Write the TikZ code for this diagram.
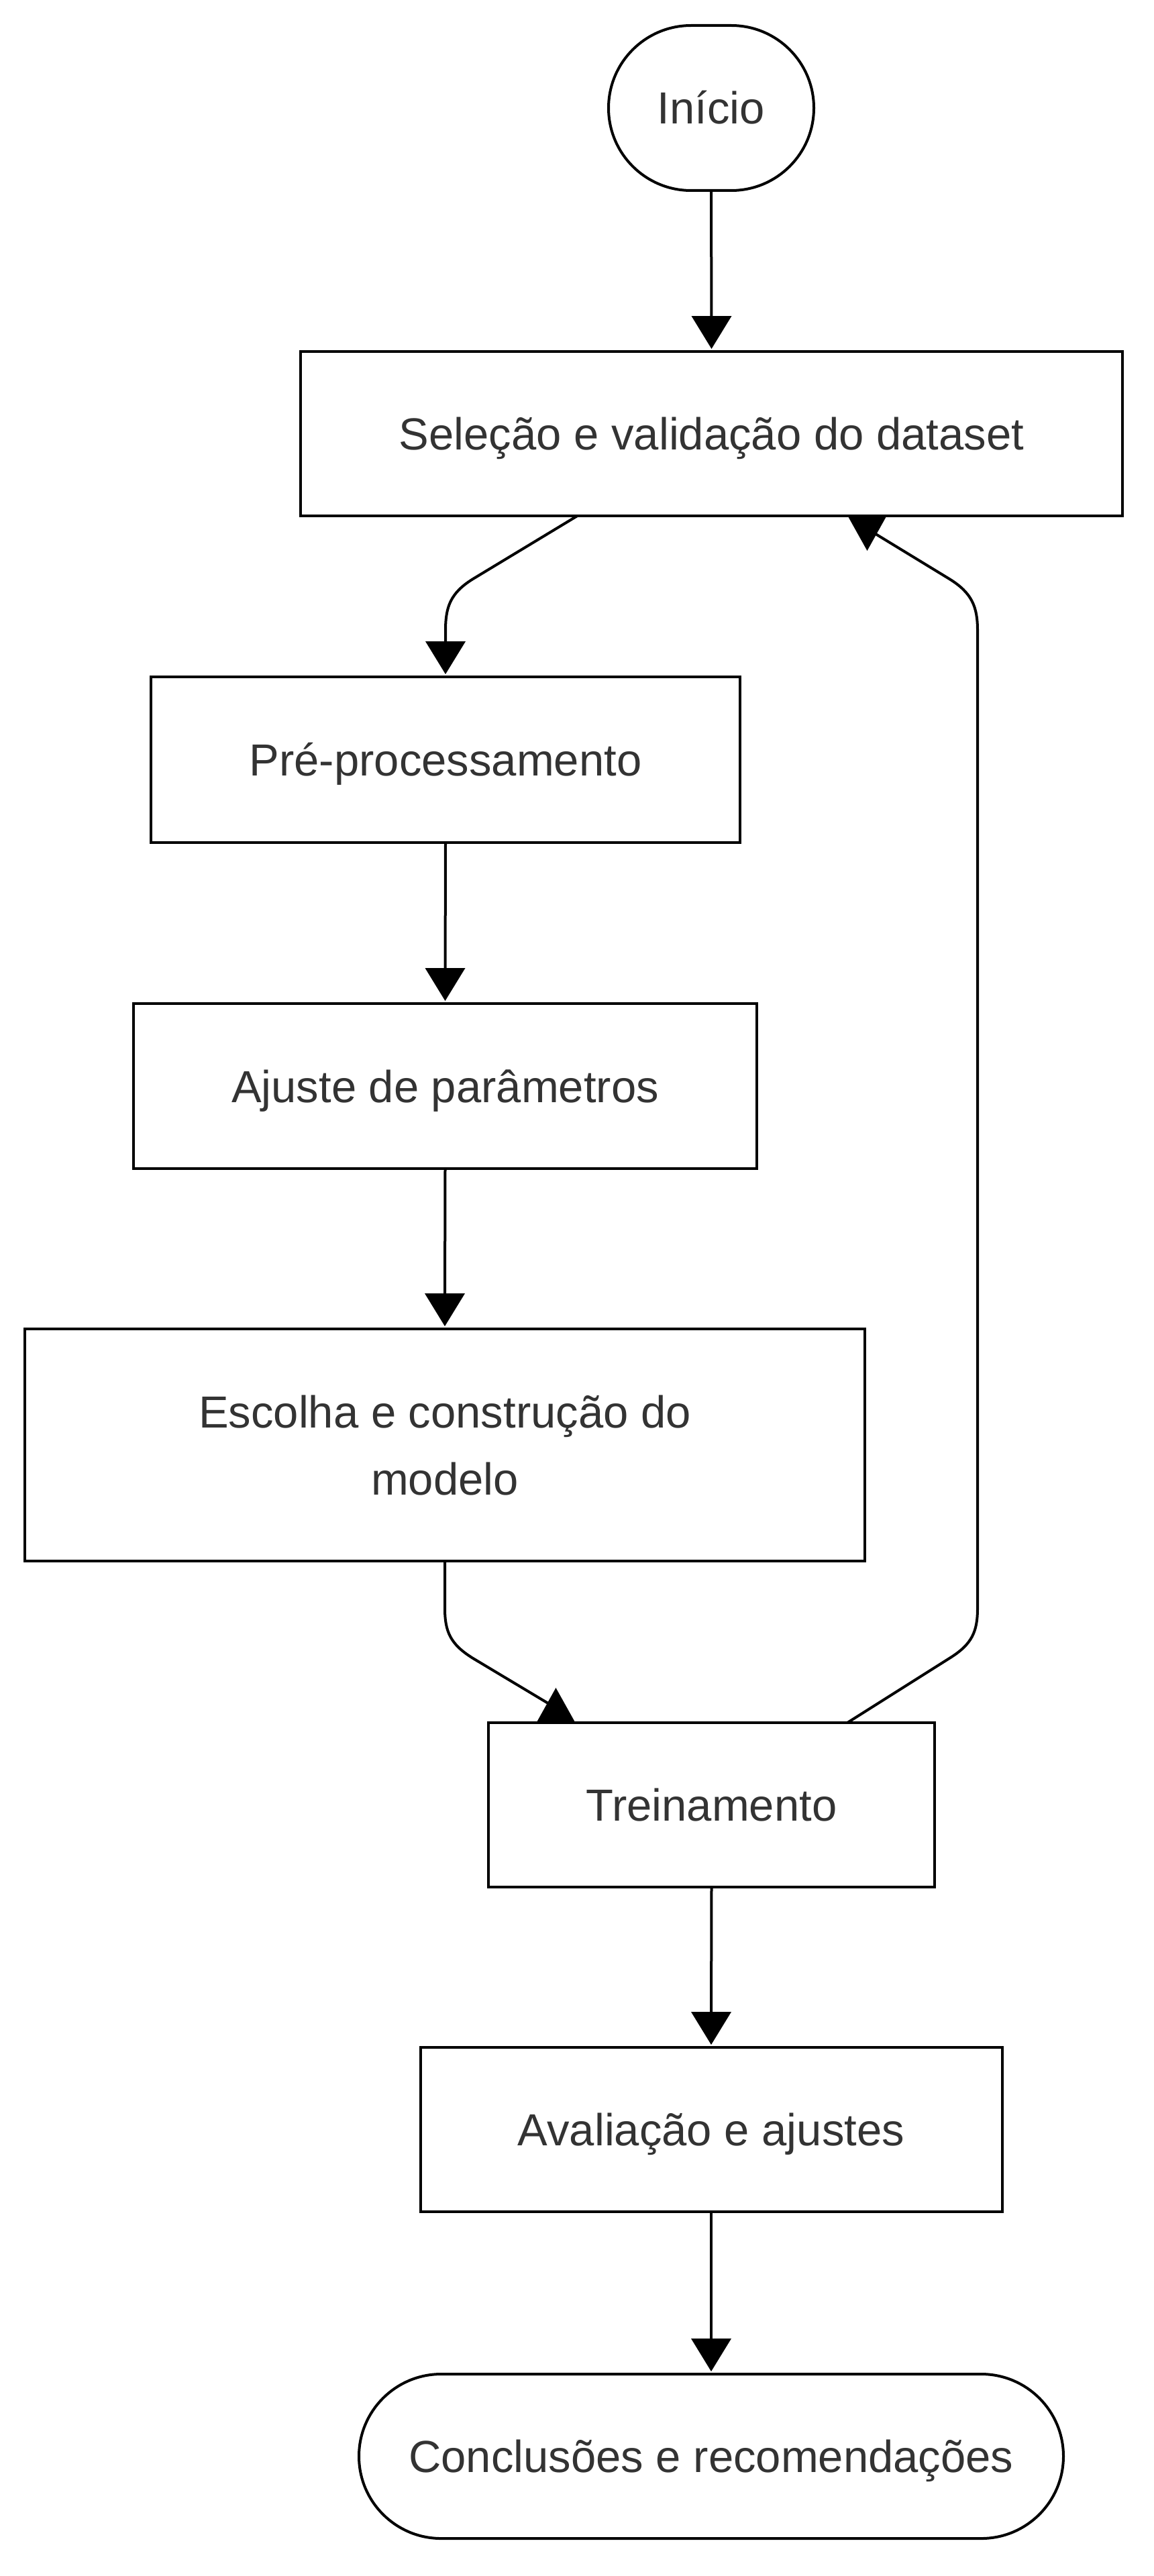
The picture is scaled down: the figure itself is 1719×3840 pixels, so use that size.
\documentclass[tikz,border=0pt]{standalone}
\usepackage{fontspec}
\setmainfont{Liberation Sans}
\usetikzlibrary{calc,shapes.misc}
\definecolor{txt}{HTML}{333333}
\tikzset{
  stepbox/.style={draw=black, line width=4pt, fill=white, rectangle, inner sep=0pt, outer sep=0pt, text=txt, font=\fontsize{67}{100}\selectfont},
  oneline/.style={text height=48pt, text depth=0pt},
  termbox/.style={stepbox, oneline, rounded rectangle},
  conn/.style={draw=black, line width=4pt},
  tipfill/.style={fill=black},
}
\newcommand\mytipdown[1]{\fill[tipfill] ($(#1)+(0,4)$) -- ++(-30,49) -- ++(60,0) -- cycle;}
\begin{document}
\begin{tikzpicture}[x=1pt,y=1pt]
\useasboundingbox (0,0) rectangle (1719,-3840);
\fill[white] (0,0) rectangle (1719,-3840);

\node[termbox, minimum width=306pt, minimum height=246pt] (n0) at (1060,-161) {Início};
\node[stepbox, oneline, minimum width=1225pt, minimum height=245pt] (n1) at (1060.5,-646.5) {Seleção e validação do dataset};
\node[stepbox, oneline, minimum width=878pt, minimum height=247pt] (n2) at (664,-1132.5) {Pré-processamento};
\node[stepbox, oneline, minimum width=929pt, minimum height=246pt] (n3) at (663.5,-1619) {Ajuste de parâmetros};
\node[stepbox, minimum width=1252pt, minimum height=346pt] (n4) at (663,-2154) {\parbox[c][148pt][t]{1240pt}{\centering\rule{0pt}{48pt}Escolha e construção do\\modelo}};
\node[stepbox, oneline, minimum width=665pt, minimum height=245pt] (n5) at (1060.5,-2690.5) {Treinamento};
\node[stepbox, oneline, minimum width=867pt, minimum height=245pt] (n6) at (1060,-3174.5) {Avaliação e ajustes};
\node[termbox, minimum width=1050pt, minimum height=245pt] (n7) at (1060,-3661.5) {Conclusões e recomendações};

% Início -> Seleção
\draw[conn] (n0.south) -- ($(n1.north)+(0,30)$);
\mytipdown{n1.north}
% Seleção -> Pré-processamento
\draw[conn] ($(n1.south)+(-200,0)$) -- (705,-863) .. controls (671,-884) and (664,-905) .. (664,-940) -- ($(n2.north)+(0,30)$);
\mytipdown{n2.north}
% Pré -> Ajuste
\draw[conn] (n2.south) -- ($(n3.north)+(0,30)$);
\mytipdown{n3.north}
% Ajuste -> Escolha
\draw[conn] (n3.south) -- ($(n4.north)+(0,30)$);
\mytipdown{n4.north}
% Escolha -> Treinamento
\draw[conn] (n4.south) -- (663,-2397) .. controls (663,-2432) and (671,-2451) .. (705,-2472) -- ($(n5.north)+(-242,28)$);
\fill[tipfill] ($(n5.north)+(-261,0)$) -- ($(n5.north)+(-232,52)$) -- ($(n5.north)+(-203,0)$) -- cycle;
% Treinamento -> Seleção (loop)
\draw[conn] ($(n5.north)+(202.5,0)$) -- (1415,-2472) .. controls (1449,-2451) and (1457,-2432) .. (1457,-2397) -- (1457,-940) .. controls (1457,-905) and (1449,-884) .. (1415,-863) -- ($(n1.south)+(243,-26)$);
\fill[tipfill] ($(n1.south)+(203,0)$) -- ($(n1.south)+(232,-52)$) -- ($(n1.south)+(261,0)$) -- cycle;
% Treinamento -> Avaliação
\draw[conn] (n5.south) -- ($(n6.north)+(0,30)$);
\mytipdown{n6.north}
% Avaliação -> Conclusões
\draw[conn] (n6.south) -- ($(n7.north)+(0,30)$);
\mytipdown{n7.north}
\end{tikzpicture}
\end{document}
